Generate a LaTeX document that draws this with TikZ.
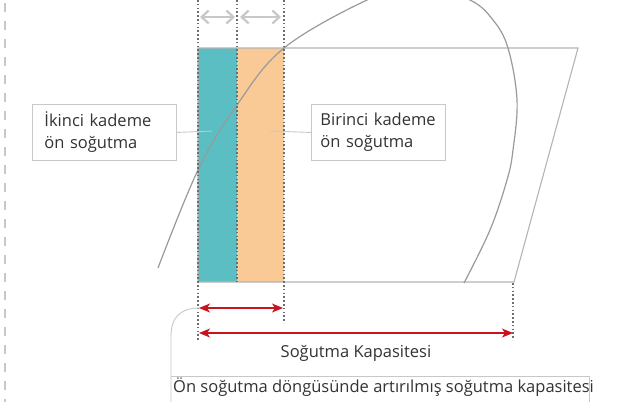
\documentclass[tikz,border=0pt]{standalone}
\usepackage{fontspec}
\setmainfont{Open Sans}
\usetikzlibrary{arrows.meta}
\definecolor{tealfill}{HTML}{5ABEC3}
\definecolor{orangefill}{HTML}{F9CA96}
\definecolor{txt}{HTML}{333333}
\definecolor{frame}{HTML}{C8C8C8}
\definecolor{outline}{HTML}{B4B4B4}
\definecolor{curvec}{HTML}{9A9A9A}
\definecolor{dotc}{HTML}{6E6E6E}
\definecolor{redc}{HTML}{C8141E}
\tikzset{
  lbl/.style={draw=frame, line width=0.9pt, text=txt, align=left, anchor=north west,
    font=\fontsize{16.5}{22}\selectfont, minimum height=56pt, inner ysep=0pt},
  guide/.style={dotc, line width=1.1pt, dash pattern=on 1.5pt off 2.3pt},
  redarrow/.style={redc, line width=1.2pt, {Stealth[length=11pt,width=9pt,inset=3pt]}-{Stealth[length=11pt,width=9pt,inset=3pt]}},
  grayarrow/.style={frame, line width=2.2pt, {Straight Barb[length=7pt,width=13pt]}-{Straight Barb[length=7pt,width=13pt]}},
  leader/.style={frame, line width=0.9pt},
}
\begin{document}
\begin{tikzpicture}[x=1pt,y=-1pt]
\useasboundingbox (0,0) rectangle (620,402);
\clip (0,0) rectangle (620,402);
\fill[white] (0,0) rectangle (620,402);
% left dashed border
\draw[frame, line width=1.8pt, dash pattern=on 9pt off 9pt] (5,3) -- (5,402);
% columns
\fill[tealfill] (198,48) rectangle (237,282);
\fill[orangefill] (237,48) rectangle (284,282);
% parallelogram outline
\coordinate (tl) at (198,48);
\coordinate (tr) at (578,48);
\coordinate (br) at (514,282);
\coordinate (bl) at (198,282);
\draw[outline, line width=1.1pt] (tl) -- (tr) -- (br) -- (bl) -- cycle;
% dome curve
\draw[curvec, line width=1.2pt] plot[smooth, tension=0.6] coordinates {
 (158,268) (198,170) (237,105) (284,48) (367,0) (420,-16) (470,0) (493,20)
 (508,48) (517,100) (513,150) (507,180) (490,230) (464,283)};
% dotted guides
\coordinate (g1t) at (198,0); \coordinate (g1b) at (198,340);
\coordinate (g2t) at (237,0); \coordinate (g2b) at (237,282);
\coordinate (g3t) at (284,0); \coordinate (g3b) at (284,323);
\coordinate (g4t) at (513,283); \coordinate (g4b) at (513,340);
\draw[guide] (g1t) -- (g1b);
\draw[guide] (g2t) -- (g2b);
\draw[guide] (g3t) -- (g3b);
\draw[guide] (g4t) -- (g4b);
% top gray arrows
\coordinate (a1) at (200,17); \coordinate (a2) at (235,17);
\coordinate (a3) at (240,17); \coordinate (a4) at (281,17);
\draw[grayarrow] (a1) -- (a2);
\draw[grayarrow] (a3) -- (a4);
% label boxes
\node[lbl, text width=120pt, inner xsep=12pt] (second) at (32,104) {İkinci kademe\\ön soğutma};
\node[lbl, text width=124pt, inner xsep=5pt] (first) at (311,104) {\hspace*{4pt}Birinci kademe\\\hspace*{4pt}ön soğutma};
\coordinate (p2) at (212,131);
\coordinate (p1) at (270,131);
\draw[leader] (second.east) -- (p2);
\draw[leader] (first.west) -- (p1);
% red arrows
\coordinate (r1a) at (199,308); \coordinate (r1b) at (283,308);
\coordinate (r2a) at (199,333); \coordinate (r2b) at (513,333);
\draw[redarrow] (r1a) -- (r1b);
\draw[redarrow] (r2a) -- (r2b);
\node[text=txt, font=\fontsize{16.5}{20}\selectfont] (cap) at (356,353) {Soğutma Kapasitesi};
% bottom box
\node[text=txt, font=\fontsize{16.5}{20}\selectfont, anchor=base west, inner sep=0pt] (bottom) at (173,392) {Ön soğutma döngüsünde artırılmış soğutma kapasitesi};
\draw[leader] (589,402) -- (589,376) -- (171,376);
\draw[leader] (r1a) .. controls (180,308) and (171,318) .. (171,336) -- (171,402);
\end{tikzpicture}
\end{document}
